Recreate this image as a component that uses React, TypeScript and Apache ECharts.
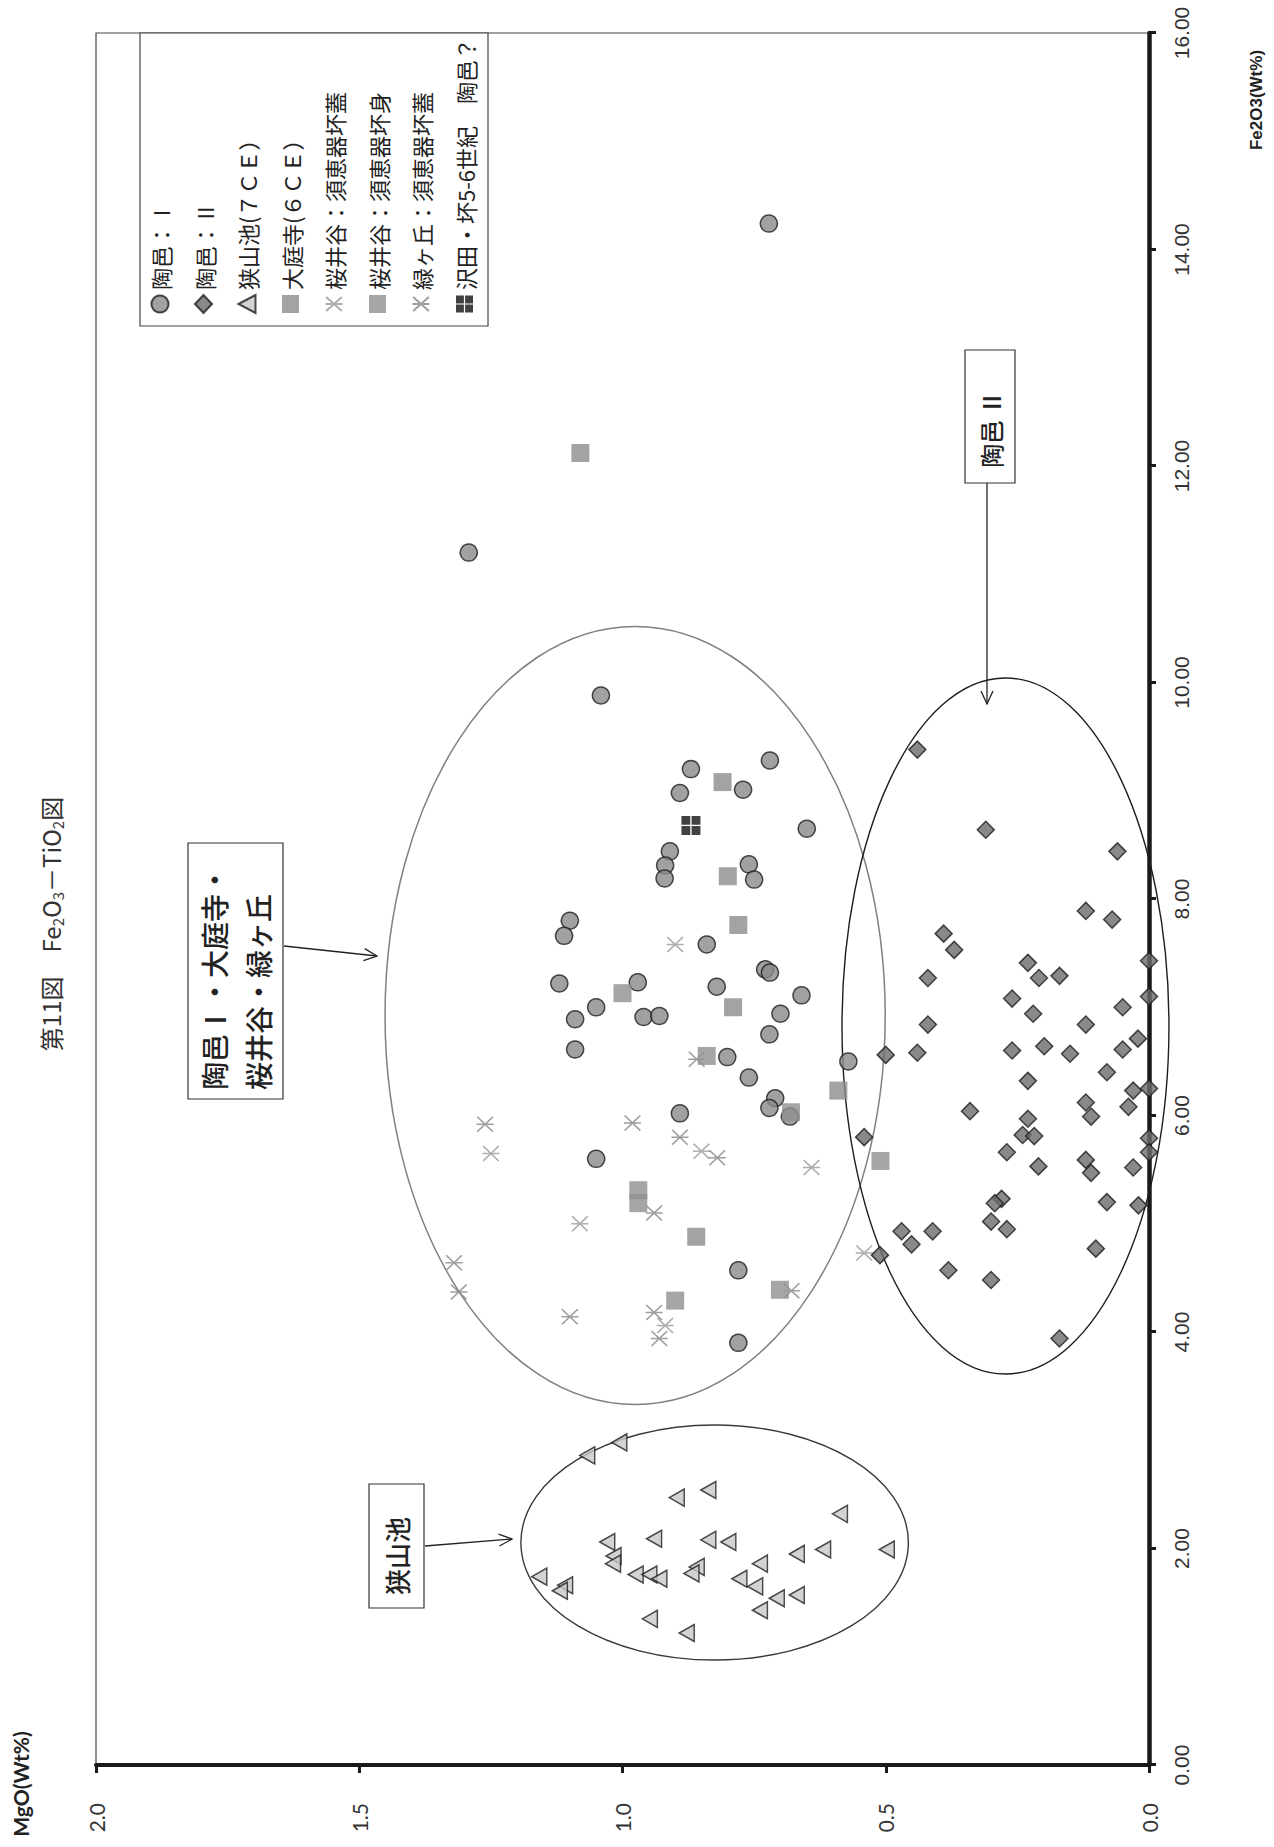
import React, { useEffect, useRef } from "react";
import * as echarts from "echarts";

// ---- axes ----
const FE_MIN = 0;
const FE_MAX = 16;
const FE_STEP = 2;
const MG_MIN = 0;
const MG_MAX = 2;
const MG_STEP = 0.5;

// ---- series names (legend order) ----
const seriesNames = [
  "陶邑：Ⅰ",
  "陶邑：Ⅱ",
  "狭山池(７ＣＥ）",
  "大庭寺(６ＣＥ）",
  "桜井谷：須恵器坏蓋",
  "桜井谷：須恵器坏身",
  "緑ヶ丘：須恵器坏蓋",
  "沢田・坏5-6世紀　陶邑？",
];

// ---- data: [Fe2O3, MgO] ----
const suemuraI: number[][] = [
  [14.24, 0.722], [11.2, 1.292], [9.88, 1.041], [9.28, 0.72], [9.2, 0.87], [8.98, 0.891],
  [9.01, 0.771], [8.65, 0.65], [8.44, 0.91], [8.31, 0.919], [8.19, 0.92], [8.32, 0.76],
  [8.18, 0.75], [7.8, 1.1], [7.66, 1.111], [7.58, 0.84], [7.35, 0.729], [7.32, 0.72],
  [7.22, 1.12], [7.23, 0.971], [7.19, 0.821], [7.11, 0.66], [7.0, 1.05], [6.89, 1.09],
  [6.91, 0.96], [6.92, 0.93], [6.94, 0.7], [6.75, 0.721], [6.61, 1.09], [6.54, 0.801],
  [6.5, 0.571], [6.35, 0.76], [6.16, 0.71], [6.07, 0.721], [5.99, 0.682], [6.02, 0.891],
  [5.6, 1.05], [4.57, 0.78], [3.9, 0.78],
];

const suemuraII: number[][] = [
  [9.38, 0.44], [8.64, 0.31], [8.44, 0.06], [7.89, 0.12], [7.81, 0.07], [7.68, 0.39],
  [7.53, 0.37], [7.43, 0.0], [7.41, 0.23], [7.27, 0.42], [7.27, 0.209], [7.29, 0.17],
  [7.08, 0.26], [7.1, 0.0], [7.0, 0.05], [6.94, 0.22], [6.84, 0.42], [6.84, 0.12],
  [6.71, 0.021], [6.64, 0.199], [6.6, 0.26], [6.61, 0.05], [6.57, 0.15], [6.58, 0.44],
  [6.56, 0.5], [6.4, 0.08], [6.32, 0.23], [6.23, 0.03], [6.25, 0.0], [6.12, 0.12],
  [5.99, 0.11], [6.08, 0.039], [6.04, 0.34], [5.97, 0.23], [5.82, 0.24], [5.81, 0.218],
  [5.8, 0.541], [5.79, 0.0], [5.66, 0.0], [5.66, 0.27], [5.59, 0.12], [5.47, 0.11],
  [5.53, 0.21], [5.52, 0.03], [5.23, 0.28], [5.19, 0.293], [5.2, 0.08], [5.17, 0.02],
  [5.02, 0.3], [4.95, 0.27], [4.93, 0.47], [4.93, 0.411], [4.81, 0.451], [4.77, 0.101],
  [4.71, 0.511], [4.57, 0.381], [4.48, 0.3], [3.94, 0.17],
];

const sayamaike: number[][] = [
  [2.98, 1.006], [2.86, 1.067], [2.47, 0.897], [2.54, 0.837], [2.32, 0.587], [2.06, 1.029],
  [2.09, 0.94], [2.08, 0.837], [2.06, 0.799], [1.93, 1.017], [1.86, 1.018], [1.99, 0.498],
  [1.99, 0.619], [1.95, 0.669], [1.86, 0.739], [1.74, 1.158], [1.66, 1.109], [1.61, 1.119],
  [1.76, 0.975], [1.76, 0.949], [1.72, 0.93], [1.83, 0.859], [1.77, 0.869], [1.72, 0.778],
  [1.65, 0.748], [1.54, 0.707], [1.57, 0.669], [1.43, 0.739], [1.35, 0.948], [1.22, 0.878],
];

const obadera: number[][] = [
  [12.12, 1.08], [9.08, 0.81], [8.21, 0.8], [7.76, 0.78], [7.0, 0.79], [6.23, 0.59], [4.88, 0.86],
];

const sakuraiFutaS: number[][] = [
  [7.58, 0.9], [5.65, 1.25], [5.67, 0.85], [5.0, 1.081], [5.52, 0.641], [4.73, 0.541], [4.06, 0.919],
];

const sakuraiMi: number[][] = [
  [7.13, 1.0], [6.55, 0.84], [6.03, 0.68], [5.58, 0.51], [5.31, 0.97], [5.19, 0.97], [4.39, 0.701], [4.29, 0.9],
];

const midorigaoka: number[][] = [
  [6.52, 0.859], [5.92, 1.261], [5.93, 0.981], [5.8, 0.891], [5.61, 0.82], [5.1, 0.94],
  [4.64, 1.32], [4.37, 1.311], [4.14, 1.1], [4.18, 0.94], [3.94, 0.93], [4.38, 0.679],
];

const sawada: number[][] = [[8.68, 0.87]];

// ---- grouping ellipses: [centre Fe2O3, centre MgO, semi-axis Fe2O3, semi-axis MgO] ----
const ellipseGroupI: number[] = [6.924, 0.976, 3.594, 0.475];
const ellipseGroupII: number[] = [6.827, 0.2726, 3.215, 0.3105];
const ellipseSayama: number[] = [2.055, 0.825, 1.0855, 0.368];

const W = 1847; // unrotated chart width
const H = 1274; // unrotated chart height

const STAR = "path://M26,0L26,52M4.5,2L47.5,50M47.5,2L4.5,50";
const CROSSBOX = "path://M0,0H9.3V9.3H0ZM10.7,0H20V9.3H10.7ZM0,10.7H9.3V20H0ZM10.7,10.7H20V20H10.7Z";

function ellipseSeries(e: number[], color: string, width: number) {
  return {
    type: "custom",
    silent: true,
    z: 1,
    clip: false,
    encode: { x: 0, y: 1 },
    data: [e],
    renderItem: (_params: any, api: any) => {
      const c = api.coord([api.value(0), api.value(1)]);
      const s = api.size([api.value(2), api.value(3)]);
      return {
        type: "ellipse",
        shape: { cx: c[0], cy: c[1], rx: s[0], ry: s[1] },
        style: { fill: "none", stroke: color, lineWidth: width },
      };
    },
  };
}

function arrow(x1: number, y1: number, x2: number, y2: number) {
  const dx = x2 - x1;
  const dy = y2 - y1;
  const len = Math.sqrt(dx * dx + dy * dy);
  const ux = dx / len;
  const uy = dy / len;
  const bx = x2 - ux * 13;
  const by = y2 - uy * 13;
  const px = -uy * 6;
  const py = ux * 6;
  const st = { stroke: "#222", lineWidth: 1.3, fill: "none" };
  return [
    { type: "line", shape: { x1, y1, x2, y2 }, style: st, z: 10 },
    {
      type: "polyline",
      shape: { points: [[bx + px, by + py], [x2, y2], [bx - px, by - py]] },
      style: st,
      z: 10,
    },
  ];
}

export default function App() {
  const ref = useRef<HTMLDivElement>(null);

  useEffect(() => {
    const el = ref.current;
    if (!el) return;
    const chart = echarts.init(el, null, { renderer: "svg", width: W, height: H });

    const cjk = "'Noto Sans CJK JP', 'Noto Sans', sans-serif";

    const option: any = {
      animation: false,
      backgroundColor: "#ffffff",
      grid: {
        left: 82,
        right: 33,
        top: 96,
        bottom: 125,
        show: true,
        borderColor: "#444",
        borderWidth: 1.2,
      },
      xAxis: {
        type: "value",
        min: FE_MIN,
        max: FE_MAX,
        interval: FE_STEP,
        splitLine: { show: false },
        axisLine: { show: true, onZero: false, lineStyle: { color: "#1a1a1a", width: 4.5 } },
        axisTick: { show: true, length: 7, lineStyle: { color: "#1a1a1a", width: 3 } },
        axisLabel: {
          margin: 22,
          fontSize: 21,
          color: "#333",
          fontFamily: "'Liberation Sans Narrow', 'Liberation Sans', sans-serif",
          formatter: (v: number) => v.toFixed(2),
        },
      },
      yAxis: {
        type: "value",
        min: MG_MIN,
        max: MG_MAX,
        interval: MG_STEP,
        splitLine: { show: false },
        axisLine: { show: true, onZero: false, lineStyle: { color: "#1a1a1a", width: 4 } },
        axisTick: { show: true, length: 8, lineStyle: { color: "#1a1a1a", width: 3 } },
        axisLabel: {
          margin: 38,
          fontSize: 21,
          color: "#333",
          fontFamily: "Lato, 'Open Sans', sans-serif",
          formatter: (v: number) => v.toFixed(1),
        },
      },
      legend: {
        data: seriesNames,
        orient: "vertical",
        left: 1533,
        top: 149,
        padding: 0,
        itemGap: 21.5,
        itemWidth: 18,
        itemHeight: 17,
        itemTextGap: 5,
        selectedMode: false,
        textStyle: { fontFamily: cjk, fontSize: 22, lineHeight: 22, color: "#222" },
      },
      graphic: [
        {
          type: "rect",
          shape: { x: 1521, y: 140, width: 293, height: 348 },
          style: { fill: "#fff", stroke: "#444", lineWidth: 1.2 },
          z: 0,
        },
        {
          type: "text",
          x: 923,
          y: 50,
          style: {
            text: "{m|第11図　Fe}{s|2}{m|O}{s|3}{m|－TiO}{s|2}{m|図}",
            align: "center",
            verticalAlign: "middle",
            fill: "#333",
            rich: {
              m: { fontFamily: cjk, fontSize: 24, lineHeight: 30, fill: "#333" },
              s: { fontFamily: cjk, fontSize: 15, lineHeight: 15, verticalAlign: "bottom", fill: "#333" },
            },
          },
        },
        {
          type: "text",
          x: 1747,
          y: 1256,
          style: {
            text: "Fe2O3(Wt%)",
            align: "center",
            verticalAlign: "middle",
            fill: "#222",
            font: "bold 17px 'Liberation Sans Narrow', 'Liberation Sans', sans-serif",
          },
        },
        {
          type: "text",
          x: 63,
          y: 20,
          style: {
            text: "MgO(Wt%)",
            align: "center",
            verticalAlign: "middle",
            fill: "#222",
            font: "bold 21px Lato, 'Open Sans', sans-serif",
          },
        },
        // annotation box: 陶邑Ⅰ・大庭寺・桜井谷・緑ヶ丘
        {
          type: "rect",
          shape: { x: 748, y: 188, width: 256, height: 95 },
          style: { fill: "#fff", stroke: "#333", lineWidth: 1.2 },
          z: 9,
        },
        {
          type: "text",
          x: 757,
          y: 236,
          z: 10,
          style: {
            text: "陶邑Ⅰ・大庭寺・\n桜井谷・緑ヶ丘",
            align: "left",
            verticalAlign: "middle",
            fill: "#222",
            font: "500 28px 'Noto Sans CJK JP', sans-serif",
            lineHeight: 44,
          },
        },
        ...arrow(901, 284, 891, 377),
        // annotation box: 陶邑Ⅱ
        {
          type: "rect",
          shape: { x: 1364, y: 965, width: 133, height: 50 },
          style: { fill: "#fff", stroke: "#333", lineWidth: 1.2 },
          z: 9,
        },
        {
          type: "text",
          x: 1379,
          y: 990,
          z: 10,
          style: {
            text: "陶邑 Ⅱ",
            align: "left",
            verticalAlign: "middle",
            fill: "#222",
            font: "500 24px 'Noto Sans CJK JP', sans-serif",
          },
        },
        ...arrow(1364, 987, 1143, 987),
        // annotation box: 狭山池
        {
          type: "rect",
          shape: { x: 239, y: 369, width: 124, height: 55 },
          style: { fill: "#fff", stroke: "#333", lineWidth: 1.2 },
          z: 9,
        },
        {
          type: "text",
          x: 252,
          y: 396,
          z: 10,
          style: {
            text: "狭山池",
            align: "left",
            verticalAlign: "middle",
            fill: "#222",
            font: "500 26px 'Noto Sans CJK JP', sans-serif",
          },
        },
        ...arrow(301, 425, 308, 512),
      ],
      series: [
        ellipseSeries(ellipseGroupI, "#808080", 1.5),
        ellipseSeries(ellipseGroupII, "#1e1e1e", 1.4),
        ellipseSeries(ellipseSayama, "#3a3a3a", 1.4),
        {
          type: "scatter",
          name: seriesNames[2],
          data: sayamaike,
          symbol: "triangle",
          symbolSize: [17, 15],
          itemStyle: { color: "#c8c8c8", borderColor: "#1e1e1e", borderWidth: 1.5 },
          z: 3,
        },
        {
          type: "scatter",
          name: seriesNames[4],
          data: sakuraiFutaS,
          symbol: STAR,
          symbolSize: [15, 17],
          itemStyle: { color: "rgba(0,0,0,0)", borderColor: "#9a9a9a", borderWidth: 1.6 },
          z: 3,
        },
        {
          type: "scatter",
          name: seriesNames[6],
          data: midorigaoka,
          symbol: STAR,
          symbolSize: [15, 17],
          itemStyle: { color: "rgba(0,0,0,0)", borderColor: "#878787", borderWidth: 1.6 },
          z: 3,
        },
        {
          type: "scatter",
          name: seriesNames[0],
          data: suemuraI,
          symbol: "circle",
          symbolSize: 17,
          itemStyle: { color: "#8a8a8a", borderColor: "#1e1e1e", borderWidth: 1.5 },
          z: 4,
        },
        {
          type: "scatter",
          name: seriesNames[1],
          data: suemuraII,
          symbol: "diamond",
          symbolSize: 17,
          itemStyle: { color: "#6c6c6c", borderColor: "#1e1e1e", borderWidth: 1.5 },
          z: 4,
        },
        {
          type: "scatter",
          name: seriesNames[3],
          data: obadera,
          symbol: "rect",
          symbolSize: 18,
          itemStyle: { color: "#8c8c8c" },
          z: 5,
        },
        {
          type: "scatter",
          name: seriesNames[5],
          data: sakuraiMi,
          symbol: "rect",
          symbolSize: 18,
          itemStyle: { color: "#909090" },
          z: 5,
        },
        {
          type: "scatter",
          name: seriesNames[7],
          data: sawada,
          symbol: CROSSBOX,
          symbolSize: 19,
          itemStyle: { color: "#111" },
          z: 6,
        },
      ],
    };

    chart.setOption(option);
    return () => {
      chart.dispose();
    };
  }, []);

  return (
    <div
      style={{
        position: "absolute",
        left: 0,
        top: 0,
        width: 1274,
        height: 1847,
        overflow: "hidden",
        background: "#fff",
      }}
    >
      <div
        ref={ref}
        style={{
          position: "absolute",
          left: 0,
          top: 0,
          width: W,
          height: H,
          transformOrigin: "0 0",
          transform: "translateY(1847px) rotate(-90deg)",
        }}
      />
    </div>
  );
}
